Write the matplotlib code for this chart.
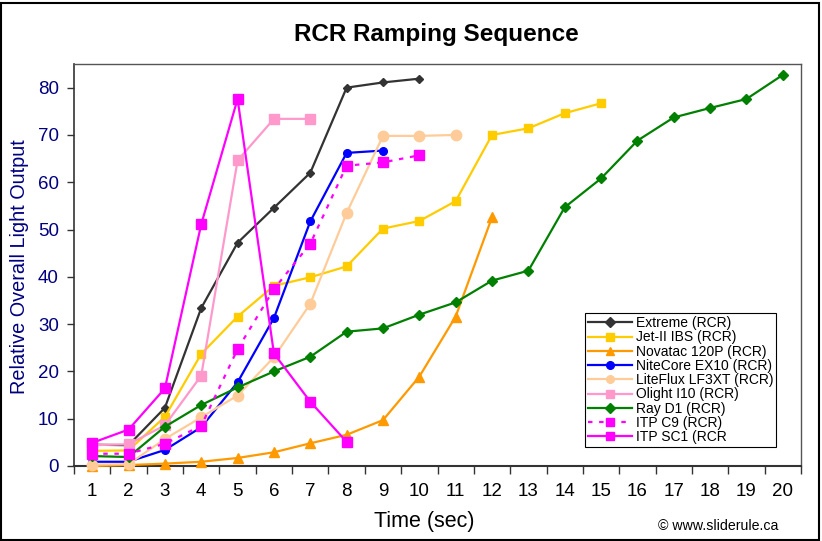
import matplotlib
matplotlib.use("Agg")
import matplotlib.pyplot as plt
from matplotlib.patches import Rectangle

plt.rcParams['font.family'] = ['Liberation Sans', 'DejaVu Sans']

time_sec = list(range(1, 21))

extreme = [4.5, 4.4, 12.3, 33.4, 47.2, 54.6, 62.0, 80.0, 81.1, 81.9]
jet2 = [3.2, 3.3, 10.4, 23.7, 31.6, 38.1, 39.9, 42.2, 50.2, 51.8, 56.0, 70.0, 71.4, 74.6, 76.7]
novatac = [0.0, 0.2, 0.5, 0.9, 1.7, 2.9, 4.8, 6.6, 9.7, 18.9, 31.6, 52.6]
nitecore = [0.9, 0.9, 3.4, 8.2, 17.7, 31.3, 51.7, 66.2, 66.7]
liteflux = [0.3, 0.4, 5.7, 10.3, 14.9, 23.0, 34.3, 53.5, 69.8, 69.8, 70.0]
olight = [4.4, 4.6, 8.6, 19.1, 64.6, 73.4, 73.4]
rayd1 = [2.1, 1.9, 8.3, 12.9, 16.6, 20.0, 23.1, 28.4, 29.1, 32.0, 34.6, 39.2, 41.3,
         54.7, 60.8, 68.8, 73.7, 75.7, 77.6, 82.7]
itp_c9 = [2.6, 2.6, 4.7, 8.5, 24.7, 37.4, 47.0, 63.5, 64.2, 65.7]
itp_sc1 = [4.9, 7.7, 16.4, 51.1, 77.6, 23.8, 13.6, 5.1]

series = [
    ("Extreme (RCR)", extreme, "#333333", "D", "-", 4.5),
    ("Jet-II IBS (RCR)", jet2, "#FFCC00", "s", "-", 6),
    ("Novatac 120P (RCR)", novatac, "#FF9900", "^", "-", 6.5),
    ("NiteCore EX10 (RCR)", nitecore, "#0000FF", "o", "-", 5.5),
    ("LiteFlux LF3XT (RCR)", liteflux, "#FFCC99", "o", "-", 7.5),
    ("Olight I10 (RCR)", olight, "#FF99CC", "s", "-", 6.5),
    ("Ray D1 (RCR)", rayd1, "#008000", "D", "-", 5),
    ("ITP C9 (RCR)", itp_c9, "#FF00FF", "s", (0, (2, 3)), 6.5),
    ("ITP SC1 (RCR", itp_sc1, "#FF00FF", "s", "-", 6.5),
]

fig = plt.figure(figsize=(8.22, 5.41), dpi=100)
ax = fig.add_axes([74/822, 1-466/541, 727/822, 402/541])

for i, (name, vals, col, mk, ls, ms) in enumerate(series):
    ax.plot(time_sec[:len(vals)], vals, color=col, marker=mk, linestyle=ls,
            linewidth=1.6, markersize=ms, markeredgecolor=col, label=name,
            zorder=3 + i, clip_on=False)

ax.set_xlim(0.5, 20.5)
ax.set_ylim(0, 85)
ax.set_xticks(time_sec)
ax.set_xticklabels([str(t) for t in time_sec], fontsize=13.5)
ax.set_xticks([t + 0.5 for t in range(0, 21)], minor=True)
ax.tick_params(axis='x', which='major', length=0, pad=12)
ax.tick_params(axis='x', which='minor', length=6, direction='out', width=1, color='#333333')
ax.set_yticks(range(0, 81, 10))
ax.tick_params(axis='y', length=5, direction='out', labelsize=13.5, labelcolor='#000080',
               width=1, color='#333333', pad=6)

for s in ax.spines.values():
    s.set_color('#555555')
    s.set_linewidth(1.0)
ax.spines['bottom'].set_color('#333333')
ax.spines['bottom'].set_linewidth(1.5)
ax.spines['left'].set_color('#333333')
ax.spines['left'].set_linewidth(1.2)

fig.text(424/822, 1-521/541, "Time (sec)", ha='center', va='center', fontsize=15.5)
fig.text(20/822, 1-267/541, "Relative Overall Light Output", ha='center', va='center',
         rotation=90, fontsize=14.3, color='#000080')

fig.text(436/822, 1-34/541, "RCR Ramping Sequence", ha='center', va='center',
         fontsize=17.5, fontweight='bold')
fig.text(778/822, 1-526/541, "\u00a9 www.sliderule.ca", ha='right', va='center',
         fontsize=10.2)

leg = ax.legend(loc='lower left', bbox_to_anchor=(0.703, 0.047), fontsize=10,
                frameon=True, fancybox=False, edgecolor='black', framealpha=1,
                borderpad=0.2, labelspacing=0.02, handlelength=3.2,
                handletextpad=0.25, borderaxespad=0)
leg.get_frame().set_linewidth(0.8)
for h in leg.legend_handles:
    h.set_markersize(5.5)

fig.patches.append(Rectangle((1/822, 1/541), 818/822, 537/541, transform=fig.transFigure,
                             fill=False, edgecolor='black', linewidth=1.5))

fig.savefig("out.png", dpi=100)
